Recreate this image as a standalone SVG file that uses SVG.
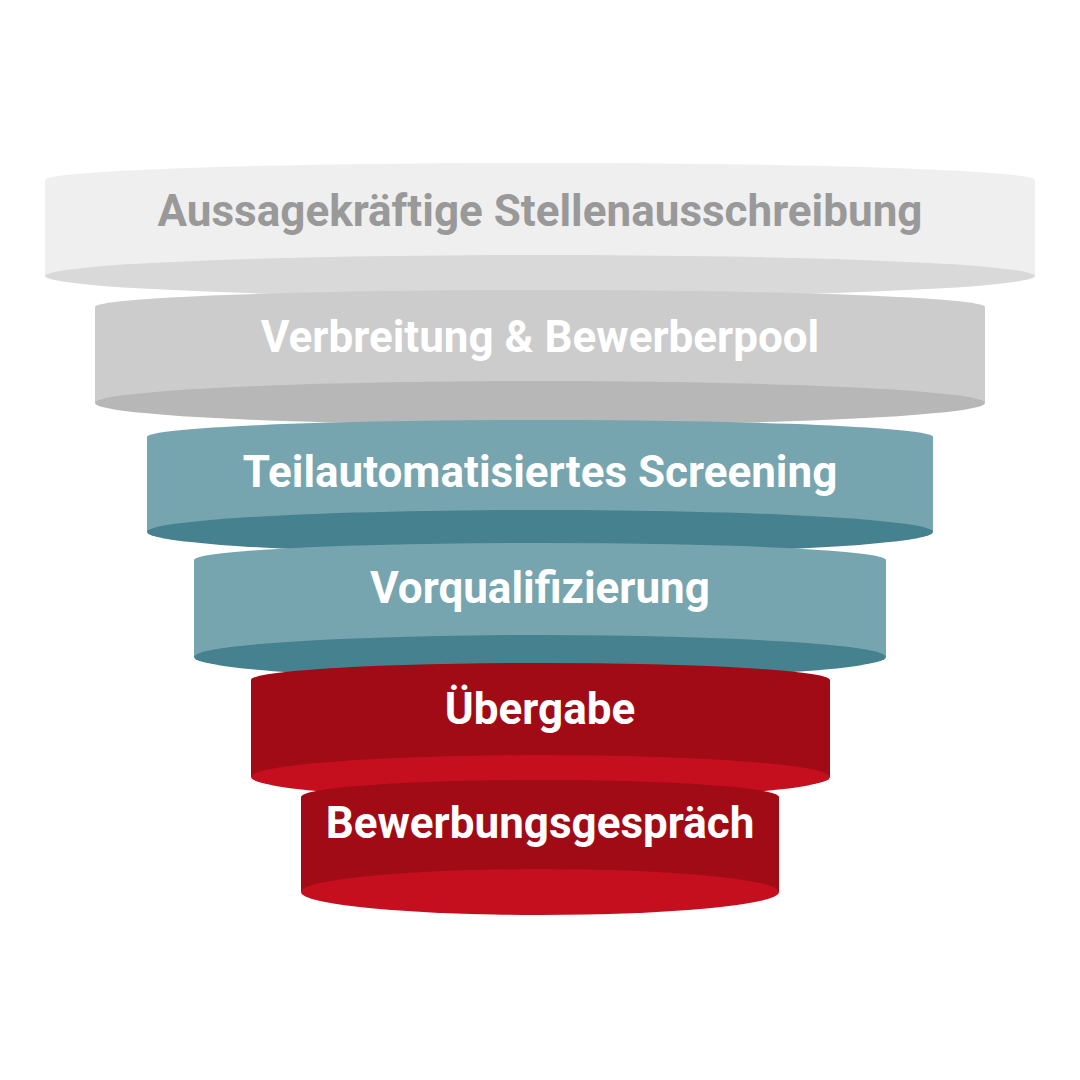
<svg xmlns="http://www.w3.org/2000/svg" width="1080" height="1080" viewBox="0 0 1080 1080">
<style>
.t{font-family:Roboto,"Liberation Sans",Arial,sans-serif;font-weight:700;font-size:44px;text-anchor:middle;fill:#ffffff}
.t1{fill:#999999}
.b1{fill:#efefef}.d1{fill:#d9d9d9}
.b2{fill:#cccccc}.d2{fill:#b7b7b7}
.bt{fill:#76a5af}.dt{fill:#45818e}
.br{fill:#a00b16}.dr{fill:#c50f1f}
</style>
<rect width="1080" height="1080" fill="#ffffff"/>
<g id="stage1">
<path class="b1" d="M45,180 A495,17 0 0 1 1035,180 V276 H45 Z"/>
<ellipse class="d1" cx="540" cy="276" rx="495" ry="21"/>
<text class="t t1" x="540" y="226">Aussagekräftige Stellenausschreibung</text>
</g>
<g id="stage2">
<path class="b2" d="M95,307 A445,17 0 0 1 985,307 V403 H95 Z"/>
<ellipse class="d2" cx="540" cy="403" rx="445" ry="22"/>
<text class="t" x="540" y="352">Verbreitung &amp; Bewerberpool</text>
</g>
<g id="stage3">
<path class="bt" d="M147,437 A393,17 0 0 1 933,437 V532 H147 Z"/>
<ellipse class="dt" cx="540" cy="532" rx="393" ry="22"/>
<text class="t" x="540" y="487">Teilautomatisiertes Screening</text>
</g>
<g id="stage4">
<path class="bt" d="M194,560 A346,17 0 0 1 886,560 V657 H194 Z"/>
<ellipse class="dt" cx="540" cy="657" rx="346" ry="22"/>
<text class="t" x="540" y="603">Vorqualifizierung</text>
</g>
<g id="stage5">
<path class="br" d="M251,680 A289.5,17 0 0 1 830,680 V777 H251 Z"/>
<ellipse class="dr" cx="540.5" cy="777" rx="289.5" ry="22"/>
<text class="t" x="540" y="724">Übergabe</text>
</g>
<g id="stage6">
<path class="br" d="M301,797 A239,17 0 0 1 779,797 V892 H301 Z"/>
<ellipse class="dr" cx="540" cy="892" rx="239" ry="23"/>
<text class="t" x="540" y="838">Bewerbungsgespräch</text>
</g>
<g id="connectors"></g>
</svg>
